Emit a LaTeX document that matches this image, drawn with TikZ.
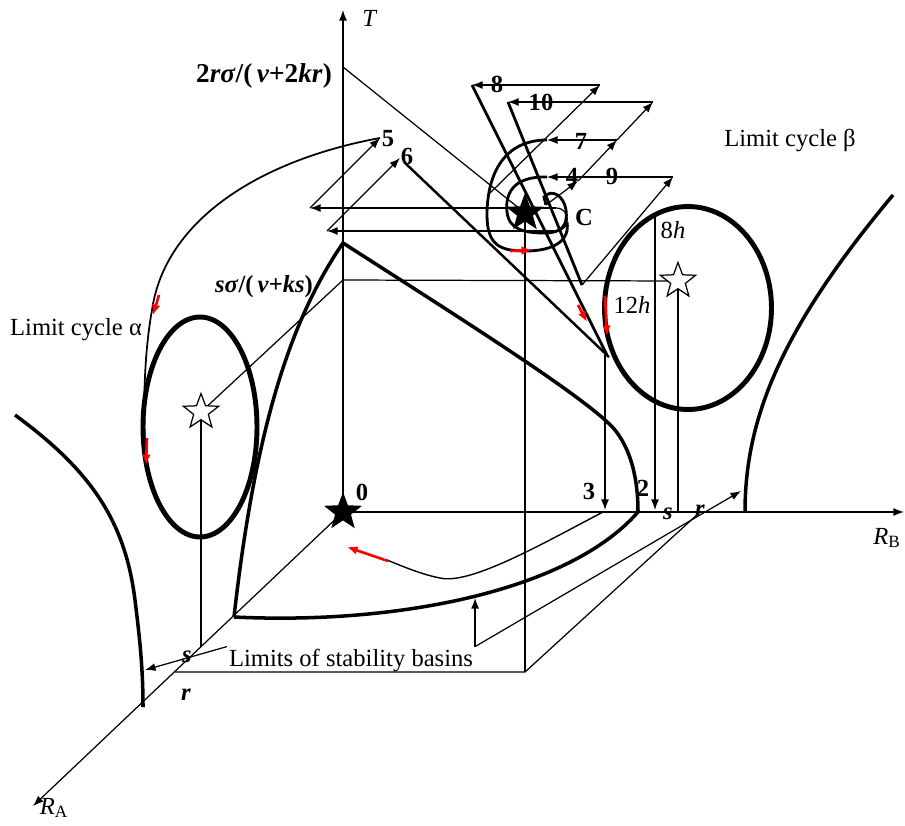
\documentclass[tikz,border=0pt]{standalone}
\usepackage{fontspec}
\setmainfont{Liberation Serif}
\usepackage{tikz}
\usetikzlibrary{shapes.geometric, arrows.meta, positioning}
\newcommand{\lblsize}{\fontsize{14}{16}\selectfont}
\tikzstyle{thinline} = [line width=0.7pt]
\tikzstyle{arrow} = [thinline, -{Latex[length=6pt,width=4.5pt]}]
\tikzstyle{traj} = [line width=1.6pt]
\tikzstyle{bound} = [line width=2pt]
\tikzstyle{limitcycle} = [ellipse, draw, line width=2.8pt, inner sep=0]
\tikzstyle{redarrow} = [red, line width=1.5pt, -{Latex[length=6pt,width=5pt]}]
\tikzstyle{fullstar} = [star, star points=5, star point ratio=2.4, fill=black, inner sep=0, minimum size=0.8cm]
\tikzstyle{openstar} = [star, star points=5, star point ratio=2.4, draw, thinline, fill=white, inner sep=0, minimum size=0.74cm]
\tikzstyle{num} = [font=\lblsize\bfseries]
\tikzstyle{vlbl} = [font=\lblsize\bfseries\itshape]

\begin{document}
\begin{tikzpicture}[x=0.02cm, y=-0.02cm, every node/.style={font=\lblsize, inner sep=1pt}]
\useasboundingbox (0,0) rectangle (905,825);

\coordinate (O) at (343,512);
\coordinate (Ttop) at (343,10);
\coordinate (RBend) at (904,512);
\coordinate (RAend) at (33,806);
\coordinate (apex) at (343,243);
\coordinate (lowA) at (234,617);
\coordinate (endB) at (638,512);
\coordinate (Tc) at (343,67);
\coordinate (Ts) at (343,280);
\coordinate (C) at (525,213);
\coordinate (Ca) at (201,412);
\coordinate (Cb) at (678,281);
\coordinate (sA) at (201,647);
\coordinate (rA) at (175,672);
\coordinate (rC) at (525,672);
\coordinate (rB) at (700,512);
\coordinate (h1) at (556,208);
\coordinate (h2) at (556,231);
\coordinate (q5) at (310,208);
\coordinate (q6) at (327,231);
\coordinate (p5) at (380,138);
\coordinate (p6) at (400,158);
\coordinate (s6) at (404,162);
\coordinate (hit6) at (609,357);
\coordinate (p8) at (600,85);
\coordinate (q8) at (472,85);
\coordinate (p10) at (653,102);
\coordinate (q10) at (508,102);
\coordinate (p7) at (617,140);
\coordinate (q7) at (547,140);
\coordinate (p9) at (673,177);
\coordinate (q9) at (547,177);
\coordinate (p4) at (578,181);
\coordinate (d4) at (546,205);
\coordinate (d8) at (490,193);
\coordinate (V) at (582,285);
\coordinate (hit8) at (607,355);
\coordinate (top3) at (605,352);
\coordinate (foot3) at (605,510);
\coordinate (b3) at (603,512);
\coordinate (top2) at (655,216);
\coordinate (foot2) at (655,510);
\coordinate (bb) at (471,598);
\coordinate (lb) at (145,670);
\coordinate (rbt) at (741,491);

% axes
\draw[arrow] (O) -- (Ttop);
\draw[arrow] (O) -- (RBend);
\draw[arrow] (O) -- (RAend);

% projections
\draw[thinline] (Tc) -- (C);
\draw[thinline] (Ca) -- (Ts) -- (Cb);
\draw[thinline] (C) -- (rC);
\draw[thinline] (rA) -- (rC) -- (rB);
\draw[thinline] (Ca) -- (sA);
\draw[thinline] (Cb) -- (Cb |- O);
\draw[arrow] (top3) -- (foot3);
\draw[arrow] (top2) -- (foot2);

% limit cycles and basins
\node[limitcycle, minimum width=2.28cm, minimum height=4.4cm] (cycA) at (200,427) {};
\node[limitcycle, minimum width=3.34cm, minimum height=4.06cm] (cycB) at (688,308) {};
\draw[bound] (apex) .. controls (290,320) and (255,430) .. (lowA);
\draw[bound] (apex) .. controls (460,318) and (590,400) .. (615,430) .. controls (635,455) and (638,490) .. (endB);
\draw[bound] (lowA) .. controls (400,625) and (570,590) .. (endB);
\draw[bound] (15,415) .. controls (90,470) and (125,520) .. (135,600) .. controls (140,640) and (143,670) .. (143,707);
\draw[bound] (745,512) .. controls (745,420) and (780,330) .. (893,195);

% reinjections
\draw[arrow] (h1) -- (q5);
\draw[arrow] (h2) -- (q6);
\draw[thinline] (h1) .. controls (571,208) and (571,231) .. (h2);
\draw[arrow] (q5) -- (p5);
\draw[arrow] (q6) -- (p6);
\draw[arrow] (d8) -- (p8);
\draw[arrow] (p8) -- (q8);
\draw[arrow] (p10) -- (q10);
\draw[arrow] (p7) -- (q7);
\draw[arrow] (p9) -- (q9);
\draw[arrow] (d4) -- (p4);
\draw[arrow] (p4) -- (p7);
\draw[arrow] (p7) -- (p10);
\draw[arrow] (V) -- (p9);

% trajectories
\draw[traj] (q8) -- (hit8);
\draw[traj] (q10) -- (V);
\draw[line width=1.4pt] (s6) -- (hit6);
\draw[traj] (q7) .. controls (500,140) and (487,180) .. (487,215) .. controls (487,245) and (500,251) .. (525,251) .. controls (555,251) and (570,240) .. (567,222);
\draw[traj] (q9) .. controls (512,176) and (505,195) .. (507,212) .. controls (509,230) and (525,233) .. (545,233) .. controls (562,233) and (568,225) .. (566,210) .. controls (564,196) and (552,188) .. (544,197) -- (d4);
\draw[line width=1pt] (p5) .. controls (260,160) and (165,220) .. (152,310) .. controls (143,360) and (143,420) .. (146,470);
\draw[line width=0.8pt] (b3) .. controls (540,545) and (470,585) .. (440,578) .. controls (420,574) and (402,566) .. (387,560);

% red marks
\coordinate (ra1) at (159,295);
\coordinate (ra2) at (153,315);
\coordinate (ra3) at (147,438);
\coordinate (ra4) at (146,465);
\coordinate (rs1) at (510,251);
\coordinate (rs2) at (532,250);
\coordinate (r81) at (578,305);
\coordinate (r82) at (587,322);
\coordinate (rb1) at (605,296);
\coordinate (rb2) at (607,336);
\coordinate (r31) at (388,561);
\coordinate (r32) at (347,547);
\draw[redarrow] (ra1) -- (ra2);
\draw[redarrow] (ra3) -- (ra4);
\draw[redarrow] (rs1) -- (rs2);
\draw[redarrow] (r81) -- (r82);
\draw[redarrow] (rb1) -- (rb2);
\draw[redarrow] (r31) -- (r32);

% equilibria
\node[fullstar] (star0) at (O) {};
\node[fullstar] (starC) at (C) {};
\node[openstar] (starA) at (Ca) {};
\node[openstar] (starB) at (Cb) {};

% labels
\node (lim) at (351,660) {Limits of stability basins};
\draw[arrow] (lim.north west) -- (lb);
\draw[arrow] (lim.north east) -- (lim.north east |- bb);
\draw[arrow] (lim.north east) -- (rbt);
\node (lT) at (370,18) {\textit{T}};
\node (lRB) at (887,538) {\textit{R}\textsubscript{B}};
\node (lRA) at (54,808) {\textit{R}\textsubscript{A}};
\node[num, font=\fontsize{15.5}{17}\selectfont\bfseries] (lrs) at (264,76) {2\textit{rσ}/(\,\textit{ν}+2\textit{kr})};
\node[num] (lsks) at (264,287) {\textit{sσ}/(\,\textit{ν}+\textit{ks})};
\node[num] (lC) at (584,217) {C};
\node[num] (l0) at (362,492) {0};
\node[num] (l5) at (388,139) {5};
\node[num] (l6) at (407,156) {6};
\node[num] (l8) at (497,84) {8};
\node[num] (l10) at (541,102) {10};
\node[num] (l7) at (581,141) {7};
\node[num] (l4) at (572,176) {4};
\node[num] (l9) at (612,176) {9};
\node[num] (l3) at (589,491) {3};
\node[num] (l2) at (643,488) {2};
\node[vlbl] (lsB) at (668,514) {s};
\node[vlbl] (lrB) at (700,511) {r};
\node[vlbl] (lsA) at (187,657) {s};
\node[vlbl] (lrA) at (186,695) {r};
\node (l8h) at (673,230) {8\textit{h}};
\node (l12h) at (632,305) {12\textit{h}};
\node (lca) at (76,330) {Limit cycle α};
\node (lcb) at (790,140) {Limit cycle β};

\end{tikzpicture}
\end{document}
